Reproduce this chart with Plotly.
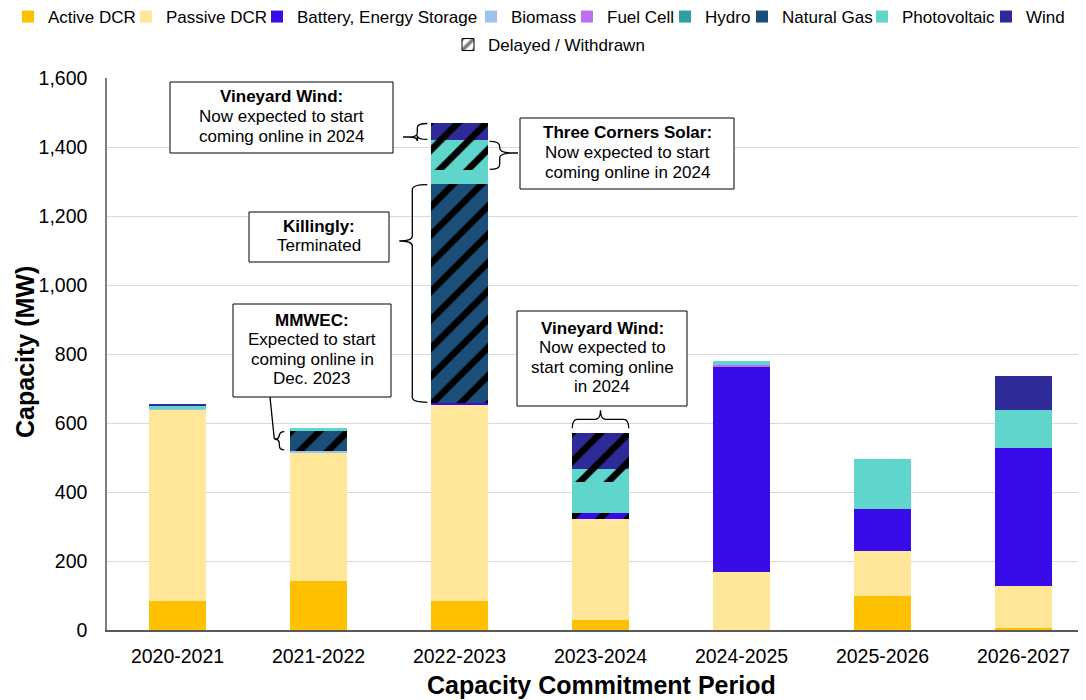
import plotly.graph_objects as go

# ---------------- data ----------------
categories = ["2020-2021", "2021-2022", "2022-2023", "2023-2024", "2024-2025", "2025-2026", "2026-2027"]
active_dcr = [84, 142, 84, 29, 0, 99, 7]
passive_dcr = [556, 372, 571, 293, 169, 130, 121]
battery = [0, 0, 2, 0, 596, 123, 400]
battery_delayed = [0, 0, 0, 16, 0, 0, 0]
biomass = [2, 5, 0, 0, 0, 0, 0]
fuel_cell = [0, 0, 0, 0, 3, 0, 0]
hydro = [0, 0, 0, 0, 0, 0, 0]
natural_gas = [0, 0, 0, 0, 0, 0, 0]
natural_gas_delayed = [0, 59, 637, 0, 0, 0, 0]
photovoltaic = [6, 7, 38, 92, 12, 145, 109]
photovoltaic_delayed = [0, 0, 87, 37, 0, 0, 0]
wind = [6, 0, 0, 0, 0, 0, 100]
wind_delayed = [0, 0, 52, 103, 0, 0, 0]

y_ticks = [0, 200, 400, 600, 800, 1000, 1200, 1400, 1600]

# ---------------- styles ----------------
FONT = "Liberation Sans, Arial, sans-serif"
colors = {
    "Active DCR": "#FFC000",
    "Passive DCR": "#FFE699",
    "Battery, Energy Storage": "#370CE8",
    "Biomass": "#9DC3E6",
    "Fuel Cell": "#C06EF2",
    "Hydro": "#2E9E9E",
    "Natural Gas": "#1B4F7A",
    "Photovoltaic": "#5FD5CB",
    "Wind": "#2E2B99",
}

series = [
    ("Active DCR", active_dcr, False),
    ("Passive DCR", passive_dcr, False),
    ("Battery, Energy Storage", battery, False),
    ("Battery, Energy Storage", battery_delayed, True),
    ("Biomass", biomass, False),
    ("Fuel Cell", fuel_cell, False),
    ("Hydro", hydro, False),
    ("Natural Gas", natural_gas, False),
    ("Natural Gas", natural_gas_delayed, True),
    ("Photovoltaic", photovoltaic, False),
    ("Photovoltaic", photovoltaic_delayed, True),
    ("Wind", wind, False),
    ("Wind", wind_delayed, True),
]

legend_items = list(colors.keys()) + ["Delayed / Withdrawn"]
# text start pixel (window) of each legend entry and its row centre
legend_text_x = [46, 166, 297, 511, 607, 705, 782, 902, 1026, 488]
legend_row_y = [17] * 9 + [45]

# ---------------- geometry (window px) ----------------
OFF = 8  # page body margin
FW, FH = 1086, 700
L, R, T, B = 107, 1094, 78, 630
W, H = R - L, B - T
XMIN, XMAX = -0.5, 6.5
YMAX = 1600
BAR_W = 0.4


def px_x(i):
    return L + (i - XMIN) / (XMAX - XMIN) * W


def px_y(v):
    return B - v / YMAX * H


def pap(x, y):
    return (x - L) / W, (B - y) / H


half_bar_px = BAR_W / 2 * W / (XMAX - XMIN)

fig = go.Figure()

# stacking segments (for braces)
cum = [0] * len(categories)
seg = {}
for name, vals, delayed in series:
    seg[(name, delayed)] = [(cum[i], cum[i] + vals[i]) for i in range(len(categories))]
    cum = [cum[i] + vals[i] for i in range(len(categories))]

for name, vals, delayed in series:
    c = colors[name]
    marker = dict(color=c, line=dict(width=0))
    if delayed:
        marker["pattern"] = dict(shape="/", fgcolor="black", bgcolor=c, size=20, solidity=0.33, fillmode="replace")
    idx = legend_items.index(name) + 1
    fig.add_trace(go.Bar(
        x=categories, y=vals, name=name, marker=marker, width=BAR_W,
        showlegend=not delayed, legend="legend" if idx == 1 else f"legend{idx}",
        hoverinfo="skip",
    ))

# dummy legend entry for delayed / withdrawn
fig.add_trace(go.Bar(
    x=categories, y=[None] * len(categories), name="Delayed / Withdrawn", width=BAR_W,
    marker=dict(color="white", line=dict(color="black", width=1),
                pattern=dict(shape="/", fgcolor="black", bgcolor="white", size=10, solidity=0.45)),
    legend=f"legend{len(legend_items)}", hoverinfo="skip",
))

layout_legends = {}
for k, (label, tx, ty) in enumerate(zip(legend_items, legend_text_x, legend_row_y)):
    key = "legend" if k == 0 else f"legend{k + 1}"
    layout_legends[key] = dict(
        xref="container", yref="container",
        x=(tx - 40 - OFF) / FW, y=1 - (ty - OFF) / FH, xanchor="left", yanchor="middle",
        orientation="h", bgcolor="rgba(0,0,0,0)", borderwidth=0,
        font=dict(family=FONT, size=17, color="black"), itemclick=False,
    )

# ---------------- braces ----------------
shapes = []


def path_from(points_cmds):
    s = ""
    for cmd, pts in points_cmds:
        s += cmd
        s += " ".join(f"{pap(x, y)[0]:.5f},{pap(x, y)[1]:.5f}" for x, y in pts) + " "
    return s.strip()


def v_brace(i, key, side, y_tip, gap, depth, tip_len, tail_to=None):
    b, t = seg[key][i]
    yt, yb = px_y(t) + 1, px_y(b) - 1
    s = -1 if side == "left" else 1
    edge = px_x(i) + s * (half_bar_px + gap)
    spine = edge + s * depth
    tip = spine + s * tip_len
    r = min(5, (yb - yt) / 4)
    cmds = [
        ("M", [(edge, yt)]),
        ("Q", [(spine, yt), (spine, yt + r)]),
        ("L", [(spine, y_tip - r)]),
        ("Q", [(spine, y_tip), (tip, y_tip)]),
        ("Q", [(spine, y_tip), (spine, y_tip + r)]),
        ("L", [(spine, yb - r)]),
        ("Q", [(spine, yb), (edge, yb)]),
    ]
    if tail_to is not None:
        cmds += [("M", [(tip, y_tip)]), ("L", [tail_to])]
    shapes.append(dict(type="path", xref="paper", yref="paper", path=path_from(cmds),
                       line=dict(color="black", width=1.3), layer="above"))
    return tip, y_tip


def h_brace_top(i, gap, depth, tip_len):
    top = cum[i]
    yh = px_y(top) - gap
    ys = yh - depth
    ytip = ys - tip_len
    xl, xr = px_x(i) - half_bar_px, px_x(i) + half_bar_px
    xc = px_x(i)
    r = 5
    cmds = [
        ("M", [(xl, yh)]),
        ("Q", [(xl, ys), (xl + r, ys)]),
        ("L", [(xc - r, ys)]),
        ("Q", [(xc, ys), (xc, ytip)]),
        ("Q", [(xc, ys), (xc + r, ys)]),
        ("L", [(xr - r, ys)]),
        ("Q", [(xr, ys), (xr, yh)]),
    ]
    shapes.append(dict(type="path", xref="paper", yref="paper", path=path_from(cmds),
                       line=dict(color="black", width=1.3), layer="above"))


# Vineyard Wind (2022-2023)
v_brace(2, ("Wind", True), "left", 137, 4, 10, 8, tail_to=(403, 137))
# Killingly
v_brace(2, ("Natural Gas", True), "left", 241, 4, 15, 13)
# Three Corners Solar
v_brace(2, ("Photovoltaic", True), "right", 153, 2, 10, 13, tail_to=(518, 153))
# MMWEC
tip = v_brace(1, ("Natural Gas", True), "left", 439, 6, 5, 5)
shapes.append(dict(type="line", xref="paper", yref="paper",
                   x0=pap(*tip)[0], y0=pap(*tip)[1], x1=pap(270, 397)[0], y1=pap(270, 397)[1],
                   line=dict(color="black", width=1.3), layer="above"))
# Vineyard Wind (2023-2024)
h_brace_top(3, 5, 9, 9)

# ---------------- callout boxes ----------------
boxes = [
    ((170, 82, 393, 153), ["<b>Vineyard Wind:</b>", "Now expected to start", "coming online in 2024"]),
    ((249, 212, 389, 262), ["<b>Killingly:</b>", "Terminated"]),
    ((520, 118, 734, 189), ["<b>Three Corners Solar:</b>", "Now expected to start", "coming online in 2024"]),
    ((233, 304, 391, 397), ["<b>MMWEC:</b>", "Expected to start", "coming online in", "Dec. 2023"]),
    ((517, 311, 687, 406), ["<b>Vineyard Wind:</b>", "Now expected to", "start coming online", "in 2024"]),
]
annotations = []
LINE = 19.6
for (x0, y0, x1, y1), lines in boxes:
    p0 = pap(x0, y1)
    p1 = pap(x1, y0)
    shapes.append(dict(type="rect", xref="paper", yref="paper", x0=p0[0], y0=p0[1], x1=p1[0], y1=p1[1],
                       fillcolor="white", line=dict(color="black", width=1), layer="above"))
    cxp = (x0 + x1) / 2
    cyp = (y0 + y1) / 2 - 1
    n = len(lines)
    for k, txt in enumerate(lines):
        ly = cyp + (k - (n - 1) / 2) * LINE
        ax, ay = pap(cxp, ly)
        annotations.append(dict(xref="paper", yref="paper", x=ax, y=ay, text=txt, showarrow=False,
                                xanchor="center", yanchor="middle",
                                font=dict(family=FONT, size=17, color="black")))

# axis titles as annotations (precise placement)
tx, ty = pap(25, 352)
annotations.append(dict(xref="paper", yref="paper", x=tx, y=ty, text="<b>Capacity (MW)</b>", textangle=-90,
                        showarrow=False, xanchor="center", yanchor="middle",
                        font=dict(family=FONT, size=25, color="black")))
tx, ty = pap(601, 685)
annotations.append(dict(xref="paper", yref="paper", x=tx, y=ty, text="<b>Capacity Commitment Period</b>",
                        showarrow=False, xanchor="center", yanchor="middle",
                        font=dict(family=FONT, size=25, color="black")))

fig.update_layout(
    width=FW, height=FH,
    margin=dict(l=L - OFF, r=FW - (R - OFF), t=T - OFF, b=FH - (B - OFF), pad=0),
    barmode="stack",
    plot_bgcolor="white", paper_bgcolor="white",
    font=dict(family=FONT, color="black"),
    hovermode=False,
    shapes=shapes,
    annotations=annotations,
    xaxis=dict(
        range=[XMIN, XMAX], showgrid=False, showline=True, linecolor="#595959", linewidth=1.5,
        ticks="", tickfont=dict(family=FONT, size=19.5, color="black"), ticklabelstandoff=8,
        fixedrange=True,
    ),
    yaxis=dict(
        range=[0, YMAX], tickvals=y_ticks, tickformat=",d", showgrid=True, gridcolor="#D9D9D9", gridwidth=1,
        zeroline=False, showline=True, linecolor="#7F7F7F", linewidth=1.5, ticks="",
        tickfont=dict(family=FONT, size=19.5, color="black"), ticklabelstandoff=14,
        fixedrange=True,
    ),
    **layout_legends,
)

fig.write_html("out.html", config={"displayModeBar": False})
